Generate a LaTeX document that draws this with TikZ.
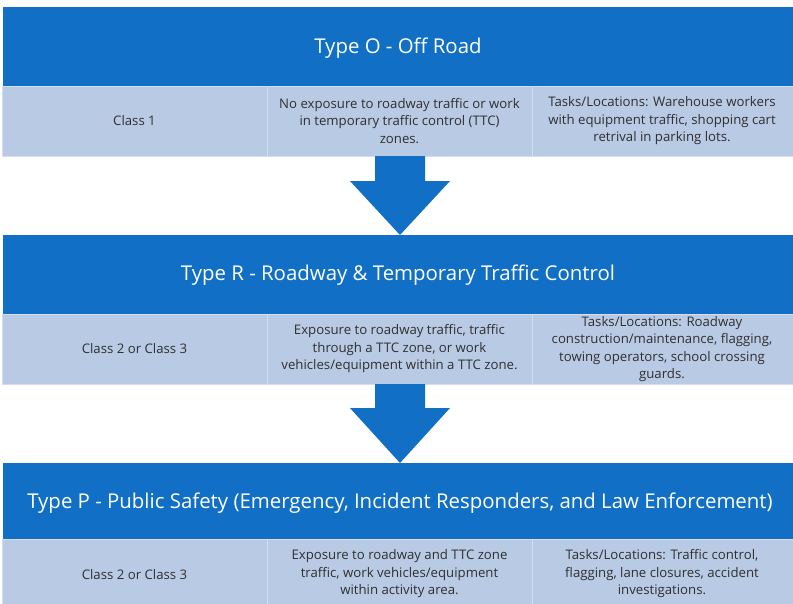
\documentclass[tikz,border=0pt]{standalone}
\usepackage{fontspec}
\setmainfont{Open Sans}
\definecolor{hdrblue}{HTML}{1170C6}
\definecolor{rowblue}{HTML}{B9CAE5}
\definecolor{cellline}{HTML}{D3DEEF}
\definecolor{celltext}{HTML}{303030}
\begin{document}
\begin{tikzpicture}[x=1pt,y=-1pt,
  header/.style={fill=hdrblue,draw=none},
  headtext/.style={text=white,font=\fontsize{20.4}{24}\selectfont,inner sep=0pt,anchor=center},
  rowcell/.style={fill=rowblue,draw=cellline,line width=1pt},
  celltxt/.style={text=celltext,font=\fontsize{13.2}{17.5}\selectfont,align=center,inner sep=0pt,anchor=center},
  downarrow/.style={fill=hdrblue,draw=none}]
\useasboundingbox (0,0) rectangle (793,603);

% ---- Type O ----
\fill[header] (3,7) rectangle (793,86);
\node[headtext] (tO) at (398,48) {Type O - Off Road};
\filldraw[rowcell] (2,86) rectangle (267,156);
\filldraw[rowcell] (267,86) rectangle (532,156);
\filldraw[rowcell] (532,86) rectangle (793,156);
\node[celltxt] (o1) at (134.5,121) {Class 1};
\node[celltxt] (o2) at (399.5,121) {No exposure to roadway traffic or work\\in temporary traffic control (TTC)\\zones.};
\node[celltxt] (o3) at (662,121) {Tasks/Locations: Warehouse workers\\with equipment traffic, shopping cart\\retrival in parking lots.};

% arrow O -> R
\fill[downarrow] (375,156) -- (425,156) -- (425,181) -- (450,181) -- (400,235) -- (350,181) -- (375,181) -- cycle;

% ---- Type R ----
\fill[header] (3,235) rectangle (793,314);
\node[headtext] (tR) at (398,275.5) {Type R - Roadway \& Temporary Traffic Control};
\filldraw[rowcell] (2,314) rectangle (267,384);
\filldraw[rowcell] (267,314) rectangle (532,384);
\filldraw[rowcell] (532,314) rectangle (793,384);
\node[celltxt] (r1) at (134.5,349) {Class 2 or Class 3};
\node[celltxt] (r2) at (399.5,349) {Exposure to roadway traffic, traffic\\through a TTC zone, or work\\vehicles/equipment within a TTC zone.};
\node[celltxt] (r3) at (662,349) {Tasks/Locations: Roadway\\construction/maintenance, flagging,\\towing operators, school crossing\\guards.};

% arrow R -> P
\fill[downarrow] (375,384) -- (425,384) -- (425,408) -- (450,408) -- (400,463) -- (350,408) -- (375,408) -- cycle;

% ---- Type P ----
\fill[header] (3,463) rectangle (793,539);
\node[headtext] (tP) at (400,503) {Type P - Public Safety (Emergency, Incident Responders, and Law Enforcement)};
\filldraw[rowcell] (2,539) rectangle (267,604);
\filldraw[rowcell] (267,539) rectangle (532,604);
\filldraw[rowcell] (532,539) rectangle (793,604);
\node[celltxt] (p1) at (134.5,575) {Class 2 or Class 3};
\node[celltxt] (p2) at (399.5,574) {Exposure to roadway and TTC zone\\traffic, work vehicles/equipment\\within activity area.};
\node[celltxt] (p3) at (662,574) {Tasks/Locations: Traffic control,\\flagging, lane closures, accident\\investigations.};
\end{tikzpicture}
\end{document}
